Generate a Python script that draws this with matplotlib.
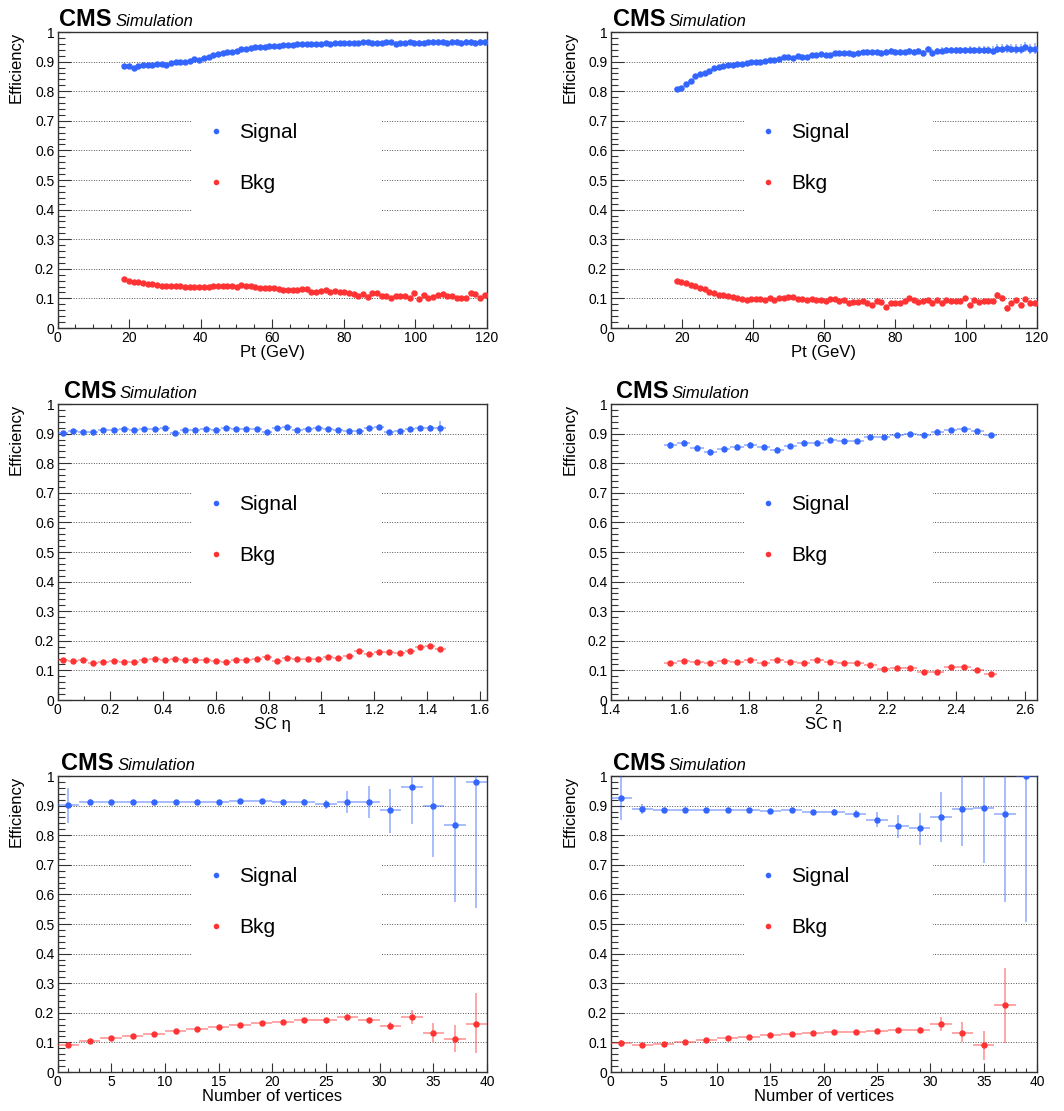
import matplotlib
matplotlib.use("Agg")
import matplotlib.pyplot as plt
import numpy as np
from matplotlib.colors import to_rgba
from matplotlib.lines import Line2D
from matplotlib.patches import Rectangle
from matplotlib.ticker import FuncFormatter, MultipleLocator

plt.rcParams['font.family'] = ['Liberation Sans', 'DejaVu Sans']

SIG_COLOR = '#3366ff'
BKG_COLOR = '#ff3333'

# ---------------- Pt binning (both Pt panels) ----------------
pt_edges = np.linspace(18, 120, 79)

pt_sig_left = [
    0.886, 0.885, 0.880, 0.886, 0.888, 0.889, 0.890, 0.891, 0.891, 0.890,
    0.895, 0.897, 0.898, 0.898, 0.902, 0.908, 0.907, 0.912, 0.917, 0.921,
    0.925, 0.928, 0.931, 0.934, 0.937, 0.941, 0.944, 0.946, 0.948, 0.950,
    0.951, 0.953, 0.954, 0.954, 0.956, 0.957, 0.956, 0.958, 0.959, 0.959,
    0.960, 0.961, 0.961, 0.962, 0.961, 0.962, 0.963, 0.962, 0.963, 0.962,
    0.963, 0.966, 0.965, 0.963, 0.964, 0.962, 0.966, 0.965, 0.960, 0.962,
    0.963, 0.966, 0.964, 0.963, 0.962, 0.965, 0.966, 0.967, 0.965, 0.964,
    0.966, 0.965, 0.964, 0.966, 0.965, 0.963, 0.965, 0.965]
pt_sig_left_err = [
    0.004, 0.004, 0.004, 0.004, 0.004, 0.004, 0.004, 0.004, 0.004, 0.004,
    0.003, 0.003, 0.003, 0.003, 0.003, 0.003, 0.003, 0.003, 0.003, 0.003,
    0.003, 0.003, 0.003, 0.003, 0.003, 0.003, 0.003, 0.003, 0.003, 0.003,
    0.004, 0.004, 0.004, 0.004, 0.004, 0.004, 0.004, 0.004, 0.004, 0.004,
    0.005, 0.005, 0.005, 0.005, 0.005, 0.006, 0.006, 0.006, 0.006, 0.006,
    0.006, 0.006, 0.007, 0.007, 0.007, 0.007, 0.007, 0.008, 0.008, 0.008,
    0.008, 0.008, 0.008, 0.009, 0.009, 0.009, 0.009, 0.009, 0.010, 0.010,
    0.010, 0.010, 0.010, 0.011, 0.011, 0.011, 0.011, 0.011]
pt_bkg_left = [
    0.164, 0.160, 0.157, 0.155, 0.152, 0.150, 0.149, 0.146, 0.143, 0.142,
    0.142, 0.141, 0.141, 0.140, 0.139, 0.139, 0.139, 0.138, 0.139, 0.141,
    0.142, 0.142, 0.143, 0.143, 0.137, 0.144, 0.141, 0.141, 0.137, 0.136,
    0.136, 0.135, 0.134, 0.132, 0.130, 0.129, 0.130, 0.130, 0.131, 0.131,
    0.122, 0.122, 0.124, 0.127, 0.122, 0.125, 0.121, 0.121, 0.118, 0.116,
    0.108, 0.115, 0.106, 0.119, 0.117, 0.109, 0.109, 0.100, 0.107, 0.107,
    0.108, 0.102, 0.118, 0.099, 0.110, 0.102, 0.104, 0.111, 0.114, 0.108,
    0.108, 0.100, 0.100, 0.100, 0.118, 0.116, 0.101, 0.110]
pt_bkg_left_err = [
    0.003, 0.003, 0.003, 0.003, 0.003, 0.003, 0.003, 0.003, 0.003, 0.003,
    0.003, 0.003, 0.003, 0.003, 0.003, 0.003, 0.003, 0.003, 0.003, 0.003,
    0.004, 0.004, 0.004, 0.004, 0.004, 0.004, 0.004, 0.004, 0.004, 0.004,
    0.004, 0.004, 0.004, 0.004, 0.004, 0.004, 0.004, 0.004, 0.004, 0.004,
    0.005, 0.005, 0.005, 0.005, 0.005, 0.005, 0.005, 0.005, 0.005, 0.005,
    0.005, 0.005, 0.005, 0.005, 0.005, 0.006, 0.006, 0.006, 0.006, 0.006,
    0.006, 0.006, 0.006, 0.006, 0.006, 0.006, 0.006, 0.006, 0.007, 0.007,
    0.007, 0.007, 0.007, 0.007, 0.007, 0.007, 0.007, 0.007]

pt_sig_right = [
    0.806, 0.812, 0.824, 0.835, 0.852, 0.858, 0.860, 0.868, 0.877, 0.882,
    0.885, 0.887, 0.889, 0.892, 0.893, 0.895, 0.898, 0.899, 0.899, 0.903,
    0.905, 0.905, 0.908, 0.914, 0.914, 0.911, 0.918, 0.914, 0.914, 0.921,
    0.923, 0.924, 0.923, 0.923, 0.929, 0.928, 0.928, 0.928, 0.927, 0.928,
    0.932, 0.934, 0.932, 0.932, 0.930, 0.934, 0.937, 0.934, 0.934, 0.932,
    0.937, 0.932, 0.937, 0.930, 0.944, 0.930, 0.936, 0.937, 0.939, 0.939,
    0.939, 0.939, 0.939, 0.940, 0.939, 0.939, 0.939, 0.939, 0.937, 0.944,
    0.944, 0.945, 0.944, 0.942, 0.944, 0.948, 0.942, 0.944]
pt_sig_right_err = [
    0.006, 0.006, 0.006, 0.006, 0.006, 0.006, 0.006, 0.006, 0.006, 0.006,
    0.005, 0.005, 0.005, 0.005, 0.005, 0.005, 0.005, 0.005, 0.005, 0.005,
    0.005, 0.005, 0.005, 0.005, 0.005, 0.006, 0.006, 0.006, 0.006, 0.006,
    0.006, 0.006, 0.006, 0.006, 0.006, 0.006, 0.006, 0.006, 0.006, 0.006,
    0.008, 0.008, 0.008, 0.008, 0.008, 0.008, 0.008, 0.008, 0.008, 0.008,
    0.009, 0.009, 0.009, 0.009, 0.009, 0.011, 0.011, 0.011, 0.011, 0.011,
    0.012, 0.012, 0.012, 0.012, 0.012, 0.013, 0.013, 0.013, 0.015, 0.015,
    0.015, 0.016, 0.016, 0.016, 0.017, 0.017, 0.018, 0.018]
pt_bkg_right = [
    0.160, 0.157, 0.151, 0.145, 0.142, 0.136, 0.133, 0.122, 0.118, 0.113,
    0.110, 0.107, 0.106, 0.102, 0.097, 0.095, 0.097, 0.098, 0.098, 0.095,
    0.102, 0.095, 0.100, 0.100, 0.106, 0.106, 0.097, 0.097, 0.095, 0.097,
    0.095, 0.095, 0.092, 0.097, 0.097, 0.092, 0.095, 0.085, 0.087, 0.087,
    0.090, 0.083, 0.079, 0.091, 0.087, 0.072, 0.086, 0.086, 0.083, 0.091,
    0.100, 0.095, 0.088, 0.090, 0.095, 0.086, 0.095, 0.083, 0.095, 0.092,
    0.092, 0.090, 0.101, 0.077, 0.095, 0.088, 0.092, 0.092, 0.090, 0.113,
    0.102, 0.069, 0.083, 0.093, 0.078, 0.097, 0.086, 0.085]
pt_bkg_right_err = [
    0.004, 0.004, 0.004, 0.004, 0.004, 0.004, 0.004, 0.004, 0.004, 0.004,
    0.004, 0.004, 0.004, 0.004, 0.004, 0.004, 0.004, 0.004, 0.004, 0.004,
    0.005, 0.005, 0.005, 0.005, 0.005, 0.005, 0.005, 0.005, 0.005, 0.005,
    0.005, 0.005, 0.005, 0.005, 0.005, 0.005, 0.005, 0.005, 0.005, 0.005,
    0.006, 0.006, 0.006, 0.006, 0.006, 0.006, 0.006, 0.006, 0.006, 0.006,
    0.006, 0.006, 0.006, 0.006, 0.006, 0.007, 0.007, 0.007, 0.007, 0.007,
    0.007, 0.007, 0.007, 0.007, 0.007, 0.007, 0.007, 0.007, 0.009, 0.009,
    0.009, 0.009, 0.009, 0.009, 0.009, 0.009, 0.009, 0.009]

# ---------------- SC eta, barrel ----------------
eb_edges = np.linspace(0.0, 1.47, 39)
eb_sig = [
    0.901, 0.909, 0.906, 0.907, 0.911, 0.912, 0.914, 0.912, 0.916, 0.916,
    0.919, 0.903, 0.913, 0.913, 0.915, 0.912, 0.918, 0.916, 0.916, 0.914,
    0.905, 0.920, 0.922, 0.913, 0.914, 0.920, 0.914, 0.913, 0.910, 0.909,
    0.919, 0.922, 0.907, 0.910, 0.914, 0.919, 0.919, 0.919]
eb_sig_err = [
    0.004, 0.004, 0.004, 0.004, 0.004, 0.004, 0.004, 0.004, 0.004, 0.004,
    0.004, 0.004, 0.004, 0.004, 0.004, 0.004, 0.004, 0.004, 0.004, 0.004,
    0.004, 0.004, 0.004, 0.004, 0.004, 0.004, 0.004, 0.004, 0.004, 0.004,
    0.005, 0.005, 0.006, 0.006, 0.007, 0.008, 0.010, 0.022]
eb_bkg = [
    0.134, 0.133, 0.136, 0.126, 0.128, 0.132, 0.127, 0.130, 0.136, 0.137,
    0.135, 0.137, 0.134, 0.134, 0.134, 0.132, 0.130, 0.134, 0.134, 0.139,
    0.144, 0.133, 0.142, 0.137, 0.137, 0.140, 0.144, 0.143, 0.149, 0.165,
    0.156, 0.163, 0.163, 0.159, 0.164, 0.178, 0.182, 0.173]
eb_bkg_err = [
    0.004, 0.004, 0.004, 0.004, 0.004, 0.004, 0.004, 0.004, 0.004, 0.004,
    0.004, 0.004, 0.004, 0.004, 0.004, 0.004, 0.004, 0.004, 0.004, 0.004,
    0.004, 0.004, 0.004, 0.004, 0.004, 0.004, 0.004, 0.004, 0.005, 0.005,
    0.005, 0.005, 0.005, 0.005, 0.006, 0.006, 0.006, 0.007]

# ---------------- SC eta, endcap ----------------
ee_edges = np.linspace(1.5535, 2.5185, 26)
ee_sig = [
    0.860, 0.868, 0.852, 0.838, 0.849, 0.855, 0.863, 0.855, 0.846, 0.857,
    0.869, 0.869, 0.877, 0.875, 0.875, 0.890, 0.888, 0.895, 0.898, 0.896,
    0.907, 0.911, 0.916, 0.910, 0.895]
ee_sig_err = [
    0.012, 0.009, 0.009, 0.009, 0.009, 0.009, 0.008, 0.008, 0.008, 0.008,
    0.008, 0.008, 0.008, 0.008, 0.008, 0.008, 0.008, 0.008, 0.007, 0.007,
    0.007, 0.007, 0.007, 0.007, 0.008]
ee_bkg = [
    0.124, 0.132, 0.127, 0.125, 0.132, 0.130, 0.134, 0.124, 0.134, 0.127,
    0.125, 0.136, 0.127, 0.126, 0.126, 0.118, 0.106, 0.108, 0.107, 0.093,
    0.094, 0.111, 0.111, 0.101, 0.088]
ee_bkg_err = [
    0.006, 0.005, 0.005, 0.005, 0.005, 0.005, 0.005, 0.005, 0.005, 0.005,
    0.005, 0.005, 0.005, 0.005, 0.005, 0.005, 0.005, 0.005, 0.005, 0.005,
    0.005, 0.005, 0.005, 0.005, 0.005]

# ---------------- number of vertices ----------------
nv_edges = np.arange(0, 41, 2)

nv_sig_left = [0.901, 0.911, 0.912, 0.912, 0.913, 0.912, 0.913, 0.913, 0.914, 0.915,
               0.912, 0.912, 0.904, 0.911, 0.911, 0.884, 0.964, 0.900, 0.834, 0.981]
nv_sig_left_lo = [0.061, 0.010, 0.005, 0.004, 0.004, 0.004, 0.004, 0.004, 0.004, 0.005,
                  0.006, 0.010, 0.016, 0.037, 0.052, 0.076, 0.127, 0.173, 0.259, 0.428]
nv_sig_left_hi = [0.057, 0.010, 0.005, 0.004, 0.004, 0.004, 0.004, 0.004, 0.004, 0.005,
                  0.006, 0.011, 0.016, 0.039, 0.054, 0.071, 0.036, 0.100, 0.166, 0.019]
nv_bkg_left = [0.092, 0.105, 0.115, 0.122, 0.129, 0.137, 0.146, 0.152, 0.160, 0.164,
               0.170, 0.175, 0.174, 0.186, 0.174, 0.156, 0.186, 0.133, 0.113, 0.163]
nv_bkg_left_lo = [0.008, 0.005, 0.003, 0.003, 0.003, 0.003, 0.003, 0.003, 0.003, 0.003,
                  0.004, 0.005, 0.006, 0.008, 0.010, 0.013, 0.025, 0.031, 0.045, 0.100]
nv_bkg_left_hi = [0.008, 0.005, 0.003, 0.003, 0.003, 0.003, 0.003, 0.003, 0.003, 0.003,
                  0.004, 0.005, 0.006, 0.008, 0.010, 0.013, 0.025, 0.034, 0.047, 0.103]

nv_sig_right = [0.927, 0.888, 0.885, 0.885, 0.885, 0.885, 0.886, 0.883, 0.884, 0.877,
                0.879, 0.873, 0.853, 0.830, 0.823, 0.861, 0.887, 0.893, 0.873, 1.000]
nv_sig_right_lo = [0.074, 0.018, 0.005, 0.004, 0.004, 0.004, 0.004, 0.004, 0.005, 0.006,
                   0.010, 0.012, 0.025, 0.040, 0.055, 0.084, 0.125, 0.188, 0.298, 0.493]
nv_sig_right_hi = [0.073, 0.017, 0.005, 0.004, 0.004, 0.004, 0.004, 0.004, 0.005, 0.006,
                   0.010, 0.012, 0.025, 0.038, 0.052, 0.084, 0.113, 0.107, 0.127, 0.000]
nv_bkg_right = [0.097, 0.092, 0.096, 0.100, 0.109, 0.115, 0.119, 0.125, 0.128, 0.131,
                0.135, 0.135, 0.138, 0.141, 0.143, 0.161, 0.133, 0.092, 0.226]
nv_bkg_right_lo = [0.012, 0.004, 0.003, 0.003, 0.003, 0.003, 0.003, 0.003, 0.003, 0.004,
                   0.004, 0.005, 0.006, 0.007, 0.010, 0.022, 0.033, 0.050, 0.128]
nv_bkg_right_hi = [0.012, 0.004, 0.003, 0.003, 0.003, 0.003, 0.003, 0.003, 0.003, 0.004,
                   0.004, 0.005, 0.006, 0.007, 0.010, 0.024, 0.035, 0.047, 0.127]


def centers(edges):
    edges = np.asarray(edges, dtype=float)
    return (edges[:-1] + edges[1:]) / 2, (edges[1:] - edges[:-1]) / 2


def fmt_g(v, pos):
    return '%g' % round(v, 6)


def draw_panel(ax, edges, sig, sig_err, bkg, bkg_err, xlim, xmajor, xminor, xlabel, cms_dx):
    x, xerr = centers(edges)
    ax.set_xlim(*xlim)
    ax.set_ylim(0, 1)
    ax.set_axisbelow(True)
    ax.grid(axis='y', which='major', linestyle=(0, (1, 1.6)), linewidth=0.7, color='#555555')
    # white legend pad hides the grid lines behind the legend
    ax.add_patch(Rectangle((0.313, 0.36), 0.442, 0.38, transform=ax.transAxes,
                           facecolor='white', edgecolor='none', zorder=1))

    for y, err, color in ((sig, sig_err, SIG_COLOR), (bkg, bkg_err, BKG_COLOR)):
        n = len(y)
        ax.errorbar(x[:n], y, xerr=xerr[:n], yerr=err, fmt='o', ms=3.6,
                    color=color, mec=color, ecolor=to_rgba(color, 0.55),
                    elinewidth=1.1, capsize=0, zorder=3)

    ax.xaxis.set_major_locator(MultipleLocator(xmajor))
    ax.xaxis.set_minor_locator(MultipleLocator(xminor))
    ax.yaxis.set_major_locator(MultipleLocator(0.1))
    ax.yaxis.set_minor_locator(MultipleLocator(0.02))
    ax.xaxis.set_major_formatter(FuncFormatter(fmt_g))
    ax.yaxis.set_major_formatter(FuncFormatter(fmt_g))

    ax.tick_params(which='both', direction='in', top=False, right=False,
                   color='#333333', width=0.8, labelsize=10)
    ax.tick_params(axis='y', which='major', length=9.4, pad=2.3)
    ax.tick_params(axis='y', which='minor', length=4.7)
    ax.tick_params(axis='x', which='major', length=6.5, pad=2.5)
    ax.tick_params(axis='x', which='minor', length=3.2)
    for s in ax.spines.values():
        s.set_color('#333333')
        s.set_linewidth(1.0)

    ax.set_ylabel('Efficiency', fontsize=12, loc='top')
    ax.yaxis.set_label_coords(-0.078, 1.0)
    ax.set_xlabel(xlabel, fontsize=12)
    ax.xaxis.set_label_coords(0.5, -0.057)

    ax.text(cms_dx, 1 + 6 / 296, 'CMS', transform=ax.transAxes, fontsize=17,
            fontweight='bold', va='baseline')
    ax.text(cms_dx + 56.4 / 430, 1 + 6 / 296, 'Simulation', transform=ax.transAxes,
            fontsize=12, style='italic', va='baseline')

    handles = [Line2D([], [], marker='o', ls='none', ms=3.0, color=SIG_COLOR, label='Signal'),
               Line2D([], [], marker='o', ls='none', ms=3.0, color=BKG_COLOR, label='Bkg')]
    ax.legend(handles=handles, loc='center left', bbox_to_anchor=(0.345, 0.5745),
              frameon=False, fontsize=15, handlelength=1.0, handletextpad=0.6,
              labelspacing=1.54, borderpad=0, borderaxespad=0, numpoints=1)


W, H = 1064, 1111
fig = plt.figure(figsize=(W / 100, H / 100), dpi=100)

col_left = [57.5, 610.5]
col_width = [429.5, 426.5]
row_top = [32, 404, 776]
ax_h = 296


def add_ax(row, col):
    l = col_left[col]
    b = row_top[row] + ax_h
    return fig.add_axes([l / W, 1 - b / H, col_width[col] / W, ax_h / H])


draw_panel(add_ax(0, 0), pt_edges, pt_sig_left, pt_sig_left_err, pt_bkg_left, pt_bkg_left_err,
           (0, 120), 20, 5, 'Pt (GeV)', 0.004)
draw_panel(add_ax(0, 1), pt_edges, pt_sig_right, pt_sig_right_err, pt_bkg_right, pt_bkg_right_err,
           (0, 120), 20, 5, 'Pt (GeV)', 0.005)
draw_panel(add_ax(1, 0), eb_edges, eb_sig, eb_sig_err, eb_bkg, eb_bkg_err,
           (0, 1.627), 0.2, 0.1, 'SC η', 0.014)
draw_panel(add_ax(1, 1), ee_edges, ee_sig, ee_sig_err, ee_bkg, ee_bkg_err,
           (1.4, 2.6335), 0.2, 0.05, 'SC η', 0.013)
draw_panel(add_ax(2, 0), nv_edges, nv_sig_left, [nv_sig_left_lo, nv_sig_left_hi],
           nv_bkg_left, [nv_bkg_left_lo, nv_bkg_left_hi], (0, 40), 5, 1,
           'Number of vertices', 0.009)
draw_panel(add_ax(2, 1), nv_edges, nv_sig_right, [nv_sig_right_lo, nv_sig_right_hi],
           nv_bkg_right, [nv_bkg_right_lo, nv_bkg_right_hi], (0, 40), 5, 1,
           'Number of vertices', 0.006)

fig.savefig('out.png', dpi=100, facecolor='white')
